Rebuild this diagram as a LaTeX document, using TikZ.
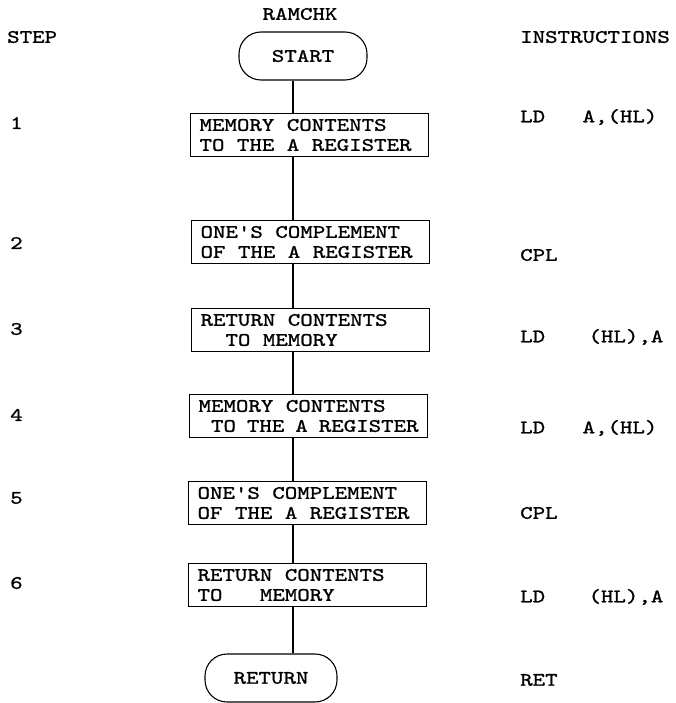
\documentclass[tikz,border=0pt]{standalone}
\usepackage{fontspec}
\newfontfamily\tw{lmmono10-regular.otf}[FakeStretch=1.25,FakeBold=1.2]
\tikzset{
  tt/.style={font=\tw\fontsize{19}{20}\selectfont},
  bx/.style={tt,draw,line width=1.1pt,text width=220pt,inner xsep=9pt,inner ysep=2pt,
    minimum height=43pt,align=flush left,anchor=west},
  term/.style={tt,draw,line width=1.1pt,rounded corners=22pt,minimum width=128pt,minimum height=48pt},
  lnk/.style={draw,line width=1.1pt},
  lb/.style={tt,anchor=west,inner sep=0pt},
}
\begin{document}
\begin{tikzpicture}[x=1pt,y=-1pt]
\useasboundingbox (0,0) rectangle (675,703);
\coordinate (spine) at (293,0);
% column heads
\node[lb] (step) at (7,37) {STEP};
\node[tt,inner sep=0pt] (name) at (300,14) {RAMCHK};
\node[lb] (instr) at (520,37) {INSTRUCTIONS};
% terminals
\node[term] (start) at (303,56) {START};
\node[term,minimum width=132pt] (ret) at (271,678) {RETURN};
% the six steps
\node[bx] (b1) at (190,135) {MEMORY CONTENTS\\TO THE A REGISTER};
\node[bx] (b2) at (191,242) {ONE'S COMPLEMENT\\OF THE A REGISTER};
\node[bx] (b3) at (191,330) {RETURN CONTENTS\\\phantom{XX}TO MEMORY};
\node[bx] (b4) at (189,416) {MEMORY CONTENTS\\\phantom{X}TO THE A REGISTER};
\node[bx] (b5) at (188,503) {ONE'S COMPLEMENT\\OF THE A REGISTER};
\node[bx] (b6) at (188,585) {RETURN CONTENTS\\TO~~~MEMORY};
\foreach \n/\y in {1/123,2/243,3/329,4/415,5/498,6/583}
  \node[lb] (n\n) at (10,\y) {\n};
% instructions
\node[lb] (i1) at (520,117) {LD~~~A,(HL)};
\node[lb] (i2) at (520,255) {CPL};
\node[lb] (i3) at (520,337) {LD~~~\kern6pt(HL),A};
\node[lb] (i4) at (520,428) {LD~~~A,(HL)};
\node[lb] (i5) at (520,513) {CPL};
\node[lb] (i6) at (520,597) {LD~~~\kern6pt(HL),A};
\node[lb] (i7) at (520,680) {RET};
% flow line
\foreach \a/\b in {start/b1,b1/b2,b2/b3,b3/b4,b4/b5,b5/b6,b6/ret}
  \draw[lnk] (\a.south -| spine) -- (\b.north -| spine);
\end{tikzpicture}
\end{document}
